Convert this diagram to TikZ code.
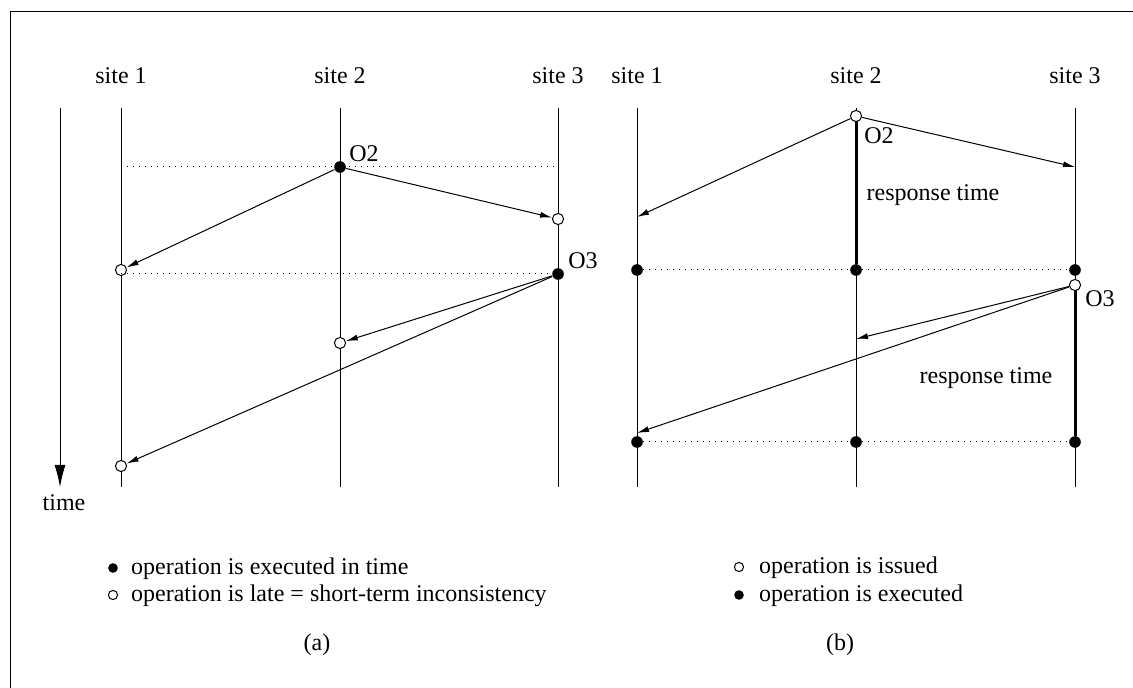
\documentclass[tikz,border=0pt]{standalone}
\usepackage{fontspec}
\setmainfont{Liberation Serif}
\usetikzlibrary{arrows.meta}

\begin{document}
\begin{tikzpicture}[
x=0.5pt, y=-0.5pt, line width=0.5pt,
every node/.style={font=\fontsize{12}{14}\selectfont},
done/.style={circle, fill, inner sep=0pt, minimum size=5.8pt},
late/.style={circle, draw, fill=white, inner sep=0pt, minimum size=5.6pt},
keydone/.style={circle, fill, inner sep=0pt, minimum size=4.8pt},
keylate/.style={circle, draw, inner sep=0pt, minimum size=4.6pt},
msg/.style={-{Latex[length=6pt,width=3pt]}},
sync/.style={dash pattern=on 0.5pt off 2.5pt},
resp/.style={line width=1.5pt}
]
\clip (0,0) rectangle (1133,688);
\useasboundingbox (0,0) rectangle (1133,688);
\draw (10,12) rectangle (1200,760);

% ---- (a) ----
\node (timelbl) at (64,503) {time};
\coordinate (tt) at (60,108);
\coordinate (tb) at (60,487);
\draw[-{Latex[length=11pt,width=5.5pt]}] (tt) -- (tb);

\foreach \x/\n in {121/1, 340/2, 558/3} {
  \node (sa\n) at (\x,76) {site \n};
  \draw (\x,108) -- (\x,487);
}

\coordinate (sa1top) at (121,167);
\coordinate (sa3top) at (558,167);
\coordinate (sa1mid) at (121,274);
\draw[sync] (sa1top) -- (sa3top);

\node[done] (aO2) at (340,167) {};
\node[done] (aO3) at (558,274) {};
\node[late] (a32) at (558,219) {};
\node[late] (a12) at (121,270) {};
\node[late] (a23) at (340,343) {};
\node[late] (a13) at (121,466) {};
\draw[sync] (sa1mid) -- (aO3);
\node at (364,154) {O2};
\node at (583,261) {O3};

\draw[msg] (aO2) -- (a32);
\draw[msg] (aO2) -- (a12);
\draw[msg] (aO3) -- (a23);
\draw[msg] (aO3) -- (a13);

\node[keydone] (kd) at (113,568) {};
\node[keylate] (kl) at (113,595) {};
\node[anchor=west] at (124,569) {operation is executed in time};
\node[anchor=west] at (124,596) {operation is late = short-term inconsistency};
\node (capa) at (317,645) {(a)};

% ---- (b) ----
\foreach \x/\n in {637/1, 856/2, 1075/3} {
  \node (sb\n) at (\x,76) {site \n};
  \draw (\x,108) -- (\x,487);
}

\node[done] (b1a) at (637,270) {};
\node[done] (b2a) at (856,270) {};
\node[done] (b3a) at (1075,270) {};
\node[done] (b1b) at (637,442) {};
\node[done] (b2b) at (856,442) {};
\node[done] (b3b) at (1075,442) {};
\draw[sync] (b1a) -- (b2a) -- (b3a);
\draw[sync] (b1b) -- (b2b) -- (b3b);

\draw[resp] (856,116) -- (b2a);
\draw[resp] (1075,285) -- (b3b);
\node[late] (bO2) at (856,116) {};
\node[late] (bO3) at (1075,285) {};
\node at (879,136) {O2};
\node at (1100,299) {O3};
\node at (933,195) {response time};
\node at (986,378) {response time};

\coordinate (b3r) at (1075,167);
\coordinate (b1r) at (637,217);
\coordinate (b2r) at (856,339);
\coordinate (b1s) at (637,433);
\draw[msg] (bO2) -- (b3r);
\draw[msg] (bO2) -- (b1r);
\draw[msg] (bO3) -- (b2r);
\draw[msg] (bO3) -- (b1s);

\node[keylate] (kli) at (739,567) {};
\node[keydone] (kex) at (739,595) {};
\node[anchor=west] at (752,568) {operation is issued};
\node[anchor=west] at (752,596) {operation is executed};
\node (capb) at (840,645) {(b)};
\end{tikzpicture}
\end{document}
